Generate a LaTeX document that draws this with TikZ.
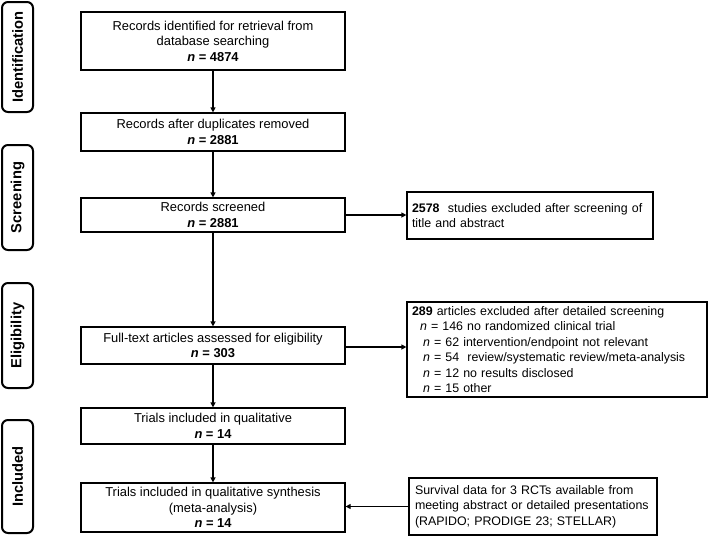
\documentclass[tikz,border=0pt]{standalone}
\usepackage{fontspec}
\setmainfont{Liberation Sans}
\usetikzlibrary{arrows.meta}
\tikzset{
  box/.style={draw, line width=1.2pt, align=center, inner sep=1pt,
    minimum width=264pt, font=\fontsize{12.9}{15.5}\selectfont},
  sidebox/.style={draw, line width=1.2pt, align=left, inner xsep=5pt, inner ysep=1pt,
    font=\fontsize{12.4}{15.4}\selectfont},
  phase/.style={draw, line width=2pt, rounded corners=6pt, rotate=90,
    minimum height=31pt, inner sep=0pt, font=\fontsize{14.7}{16}\selectfont\bfseries},
  arr/.style={line width=1.2pt, -{Triangle[length=5pt,width=5pt]}}
}
\begin{document}
\begin{tikzpicture}[x=1pt,y=-1pt]
\useasboundingbox (0,0) rectangle (709,538);
% phase labels
\node[phase, minimum width=110pt] (pid) at (17.5,57) {Identification};
\node[phase, minimum width=105pt] (psc) at (17.5,197.5) {Screening};
\node[phase, minimum width=105pt] (pel) at (17.5,335.5) {Eligibility};
\node[phase, minimum width=113pt] (pin) at (17.5,476.5) {Included};
% main boxes
\node[box, minimum height=58pt] (b1) at (213,41) {Records identified for retrieval from\\database searching\\\textbf{\textit{n} = 4874}};
\node[box, minimum height=38pt] (b2) at (213,132) {Records after duplicates removed\\\textbf{\textit{n} = 2881}};
\node[box, minimum height=34pt] (b3) at (213,215) {Records screened\\\textbf{\textit{n} = 2881}};
\node[box, minimum height=37pt] (b4) at (213,345.5) {Full-text articles assessed for eligibility\\\textbf{\textit{n} = 303}};
\node[box, minimum height=36pt] (b5) at (213,426) {Trials included in qualitative\\\textbf{\textit{n} = 14}};
\node[box, minimum height=49pt] (b6) at (213,507.5) {Trials included in qualitative synthesis\\(meta-analysis)\\\textbf{\textit{n} = 14}};
% side boxes
\node[sidebox, text width=236pt, minimum height=47pt] (e1) at (530,215.5) {\textbf{2578}\ \ studies excluded after screening of\\title and abstract};
\node[sidebox, text width=290pt, minimum height=95pt] (e2) at (557,349.5) {\textbf{289} articles excluded after detailed screening\\
\hspace*{8pt}\textit{n} = 146 no randomized clinical trial\\
\hspace*{11pt}\textit{n} = 62 intervention/endpoint not relevant\\
\hspace*{11pt}\textit{n} = 54\ \ review/systematic review/meta-analysis\\
\hspace*{11pt}\textit{n} = 12 no results disclosed\\
\hspace*{11pt}\textit{n} = 15 other};
\node[sidebox, text width=236pt, minimum height=57pt, inner xsep=6pt] (s1) at (533,506.5) {Survival data for 3 RCTs available from\\meeting abstract or detailed presentations\\(RAPIDO; PRODIGE 23; STELLAR)};
% connectors
\draw[arr] (b1) -- (b2);
\draw[arr] (b2) -- (b3);
\draw[arr] (b3) -- (b4);
\draw[arr] (b4) -- (b5);
\draw[arr] (b5) -- (b6);
\draw[arr] (b3.east) -- (b3.east -| e1.west);
\coordinate (a4) at ([yshift=-1.5pt]b4.east);
\draw[arr] (a4) -- (a4 -| e2.west);
\draw[arr] (s1.west) -- (s1.west -| b6.east);
\end{tikzpicture}
\end{document}
